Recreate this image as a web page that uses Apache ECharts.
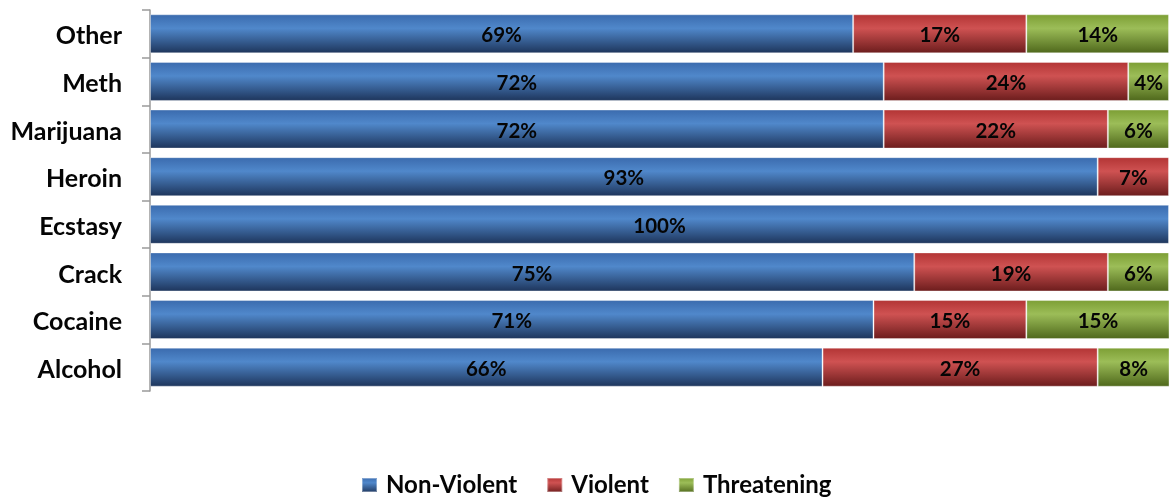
<!DOCTYPE html>
<html>
<head>
<meta charset="utf-8">
<script src="https://cdn.jsdelivr.net/npm/echarts@6/dist/echarts.min.js"></script>
<style>
  html, body { margin: 0; padding: 0; background: #fff; }
  #chart { width: 1169px; height: 498px; }
</style>
</head>
<body>
<div id="chart"></div>
<script>
// Drug categories, bottom to top
const categories = ['Alcohol', 'Cocaine', 'Crack', 'Ecstasy', 'Heroin', 'Marijuana', 'Meth', 'Other'];
// Share of offences per category (%)
const nonViolent  = [66, 71, 75, 100, 93, 72, 72, 69];
const violent     = [27, 15, 19, null, 7, 22, 24, 17];
const threatening = [8, 15, 6, null, null, 6, 4, 14];

function shade(top, light, dark) {
  return new echarts.graphic.LinearGradient(0, 0, 0, 1, [
    { offset: 0, color: top },
    { offset: 0.36, color: light },
    { offset: 1, color: dark }
  ]);
}

const labelStyle = {
  show: true,
  position: 'inside',
  offset: [0, 2],
  formatter: p => p.value + '%',
  color: '#050505',
  fontFamily: 'Lato',
  fontWeight: 'bold',
  fontSize: 20.5
};

function makeSeries(name, data, fill) {
  return {
    name: name,
    type: 'bar',
    stack: 'total',
    data: data,
    barCategoryGap: '18%',
    itemStyle: { color: fill, borderColor: 'rgba(255,255,255,0.35)', borderWidth: 1 },
    label: labelStyle,
    emphasis: { disabled: true }
  };
}

const chart = echarts.init(document.getElementById('chart'));
chart.setOption({
  animation: false,
  grid: { left: 150, top: 10, width: 1026, height: 381 },
  xAxis: {
    type: 'value', min: 0, max: 100, show: false
  },
  yAxis: {
    type: 'category',
    data: categories,
    axisLine: { show: true, lineStyle: { color: '#9a9a9a', width: 1.5 } },
    axisTick: { show: true, length: 8, lineStyle: { color: '#9a9a9a', width: 1.5 } },
    axisLabel: {
      color: '#050505', fontFamily: 'Lato', fontWeight: 'bold', fontSize: 25, margin: 28,
      formatter: v => '{c|' + v + '}',
      rich: { c: { fontFamily: 'Lato', fontWeight: 'bold', fontSize: 25, color: '#050505', padding: [5, 0, 0, 0] } }
    }
  },
  legend: {
    top: 468,
    left: 356,
    itemWidth: 15,
    itemHeight: 14,
    itemGap: 29,
    icon: 'rect',
    textStyle: {
      color: '#050505', fontFamily: 'Lato', fontWeight: 'bold', fontSize: 24,
      padding: [0, 0, 0, 4]
    },
    data: ['Non-Violent', 'Violent', 'Threatening']
  },
  series: [
    makeSeries('Non-Violent', nonViolent, shade('#3a6aad', '#5088cb', '#1d345a')),
    makeSeries('Violent', violent, shade('#b23434', '#cf5252', '#6b1c1c')),
    makeSeries('Threatening', threatening, shade('#7c9e34', '#9cbd58', '#4e671b'))
  ]
});
</script>
</body>
</html>
